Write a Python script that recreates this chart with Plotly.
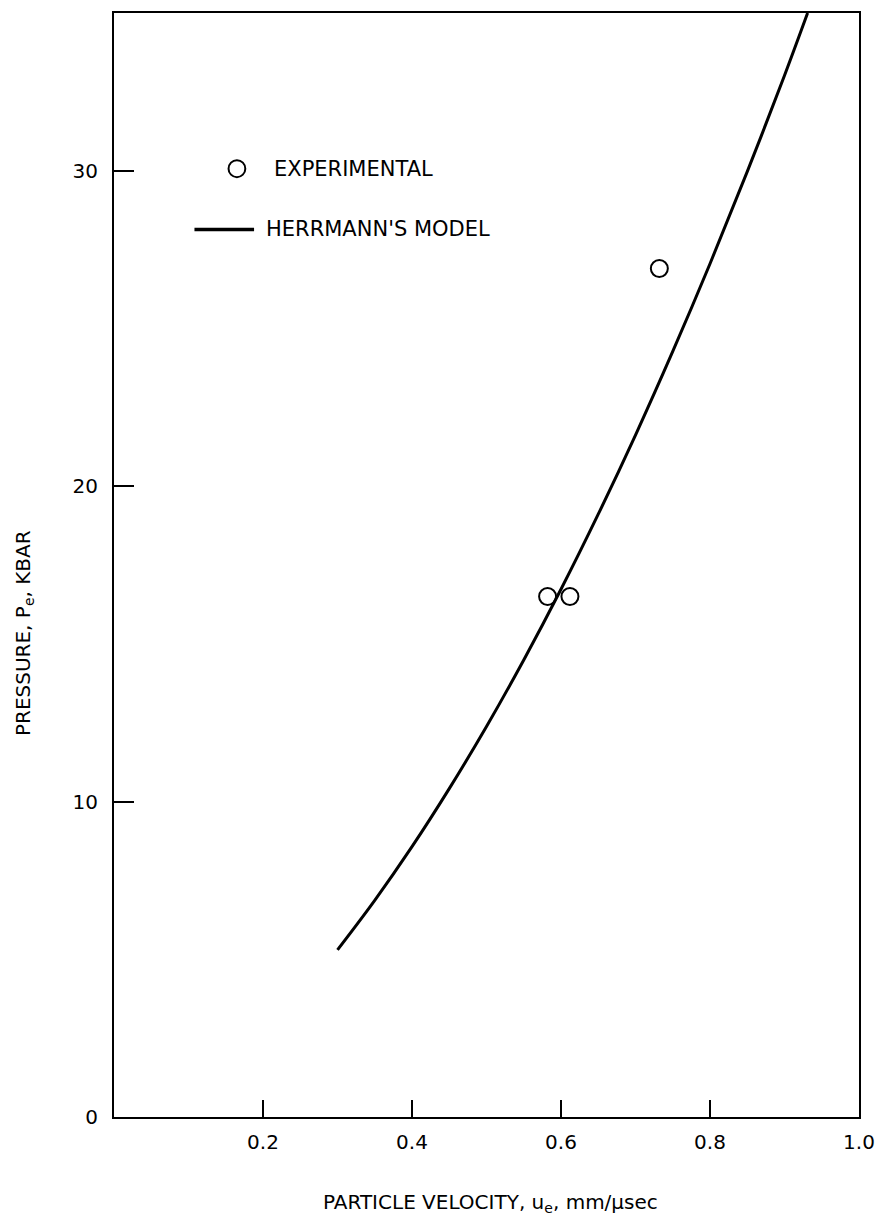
import plotly.graph_objects as go

# Herrmann's model curve
model_u = [0.30, 0.35, 0.40, 0.45, 0.50, 0.55, 0.60, 0.65, 0.70, 0.75, 0.80, 0.85, 0.90, 0.931]
model_p = [5.30, 6.87, 8.57, 10.41, 12.38, 14.49, 16.73, 19.11, 21.62, 24.27, 27.05, 29.97, 33.02, 35.0]

# Experimental points
exp_u = [0.582, 0.612, 0.732]
exp_p = [16.5, 16.5, 26.9]

x_ticks = [0.2, 0.4, 0.6, 0.8, 1.0]
x_ticktext = ["0.2", "0.4", "0.6", "0.8", "1.0"]
y_ticks = [0, 10, 20, 30]
y_ticktext = ["0", "10", "20", "30"]

FONT = "DejaVu Sans"

fig = go.Figure()
fig.add_trace(go.Scatter(x=model_u, y=model_p, mode="lines",
                         line=dict(color="black", width=3, shape="spline"),
                         showlegend=False))
fig.add_trace(go.Scatter(x=exp_u, y=exp_p, mode="markers",
                         marker=dict(symbol="circle-open", size=17,
                                     color="black", line=dict(width=2)),
                         showlegend=False))

# legend keys (paper coordinates)
fig.add_shape(type="circle", xref="paper", yref="paper",
              x0=0.165 - 8.5/756, x1=0.165 + 8.5/756,
              y0=0.859 - 8.5/1106, y1=0.859 + 8.5/1106,
              line=dict(color="black", width=2))
fig.add_shape(type="line", xref="paper", yref="paper",
              x0=0.108, x1=0.188, y0=0.804, y1=0.804,
              line=dict(color="black", width=3.5))
fig.add_annotation(text="EXPERIMENTAL", xref="paper", yref="paper",
                   x=0.212, y=0.859, xanchor="left", yanchor="middle",
                   showarrow=False, font=dict(family=FONT, size=21, color="black"))
fig.add_annotation(text="HERRMANN'S MODEL", xref="paper", yref="paper",
                   x=0.201, y=0.804, xanchor="left", yanchor="middle",
                   showarrow=False, font=dict(family=FONT, size=21, color="black"))

# axis titles
fig.add_annotation(text="PARTICLE VELOCITY, u<sub>e</sub>, mm/μsec",
                   xref="paper", yref="paper", x=0.505, y=-0.078,
                   xanchor="center", yanchor="middle", showarrow=False,
                   font=dict(family=FONT, size=20, color="black"))
fig.add_annotation(text="PRESSURE, P<sub>e</sub>, KBAR",
                   xref="paper", yref="paper", x=-0.12, y=0.438,
                   xanchor="center", yanchor="middle", textangle=-90,
                   showarrow=False,
                   font=dict(family=FONT, size=20, color="black"))

fig.update_layout(
    width=886, height=1231,
    margin=dict(l=114, r=16, t=11, b=114),
    paper_bgcolor="white", plot_bgcolor="white",
    font=dict(family=FONT, size=20, color="black"),
    xaxis=dict(range=[0, 1.0], tickvals=x_ticks, ticktext=x_ticktext,
               ticks="inside", ticklen=17, tickwidth=2, tickcolor="black",
               showline=True, linecolor="black", linewidth=2, mirror=True,
               showgrid=False, zeroline=False, ticklabelstandoff=6),
    yaxis=dict(range=[0, 35], tickvals=y_ticks, ticktext=y_ticktext,
               ticks="inside", ticklen=20, tickwidth=2, tickcolor="black",
               showline=True, linecolor="black", linewidth=2, mirror=True,
               showgrid=False, zeroline=False, ticklabelstandoff=10),
)

fig.write_html("out.html", config={"displayModeBar": False},
               post_script="document.body.style.margin='0';document.body.style.overflow='hidden';")
